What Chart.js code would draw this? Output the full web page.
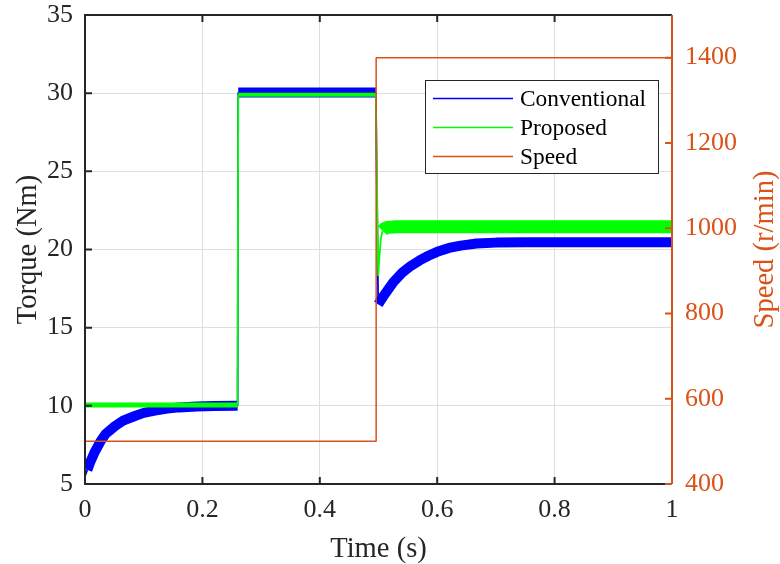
<!DOCTYPE html>
<html>
<head>
<meta charset="utf-8">
<title>Torque and speed response</title>
<script src="https://cdn.jsdelivr.net/npm/chart.js@4.4.0/dist/chart.umd.min.js"></script>
<style>
    body { margin: 0; background: #ffffff; }
    #chartContainer { width: 780px; height: 564px; }
</style>
</head>
<body>
<div id="chartContainer"><canvas id="torqueChart" width="780" height="564"></canvas></div>
<script>
// values (time in s, torque in Nm, speed in r/min)
const convTime = [0, 0.004, 0.009, 0.016, 0.026, 0.035, 0.051, 0.065, 0.085, 0.1, 0.119, 0.14, 0.16, 0.19, 0.22, 0.26,
    0.261, 0.4955, 0.4965, 0.4995, 0.51, 0.525, 0.54, 0.555, 0.57, 0.585, 0.6, 0.62, 0.64, 0.667, 0.7, 0.75, 1];
const convTorque = [5.5, 5.9, 6.4, 7.0, 7.7, 8.2, 8.7, 9.05, 9.35, 9.55, 9.7, 9.82, 9.9, 9.96, 9.99, 10.0,
    30.05, 30.05, 26.3, 16.5, 17.1, 17.9, 18.5, 18.95, 19.3, 19.6, 19.85, 20.1, 20.25, 20.38, 20.44, 20.47, 20.47];

const propTime = [0, 0.26, 0.261, 0.4955, 0.4995, 0.5015, 0.504, 0.507, 0.512, 0.53, 1];
const propTorque = [10.05, 10.05, 29.9, 29.9, 18.3, 19.5, 20.7, 21.2, 21.4, 21.45, 21.45];

const speedTime = [0, 0.496, 0.496, 1];
const speedValue = [500, 500, 1400, 1400];

const timeTicks = [0, 0.2, 0.4, 0.6, 0.8, 1];
const torqueTicks = [5, 10, 15, 20, 25, 30, 35];
const speedTicks = [400, 600, 800, 1000, 1200, 1400];

const FONT = 'Liberation Serif';
const AXIS_GREY = '#262626';
const SPEED_ORANGE = '#D95319';

function toPoints(xs, ys) {
    return xs.map((x, i) => ({ x: x, y: ys[i] }));
}

// jumps are drawn as thin lines, the rippled parts as a thick band
function bandWidth(wide) {
    return ctx => (ctx.p1.parsed.x - ctx.p0.parsed.x < 0.0045 ? 1.8 : wide(ctx.p0.parsed.x));
}

// fixed box sizes so the plot area matches the figure; tick labels may overflow
function fixWidth(w) {
    return scale => {
        scale.width = w;
        scale.paddingTop = 0;
        scale.paddingBottom = 0;
    };
}

const frameLines = {
    id: 'frameLines',
    afterDatasetsDraw(chart) {
        const { ctx, chartArea: a, scales } = chart;
        const len = 7;
        ctx.save();
        ctx.lineWidth = 2;
        ctx.strokeStyle = AXIS_GREY;
        ctx.beginPath();
        ctx.moveTo(a.right, a.top);
        ctx.lineTo(a.left, a.top);
        ctx.lineTo(a.left, a.bottom);
        ctx.lineTo(a.right, a.bottom);
        scales.x.ticks.forEach(t => {
            const px = scales.x.getPixelForValue(t.value);
            ctx.moveTo(px, a.bottom);
            ctx.lineTo(px, a.bottom - len);
            ctx.moveTo(px, a.top);
            ctx.lineTo(px, a.top + len);
        });
        scales.yTorque.ticks.forEach(t => {
            const py = scales.yTorque.getPixelForValue(t.value);
            ctx.moveTo(a.left, py);
            ctx.lineTo(a.left + len, py);
        });
        ctx.stroke();

        ctx.strokeStyle = SPEED_ORANGE;
        ctx.beginPath();
        ctx.moveTo(a.right, a.top);
        ctx.lineTo(a.right, a.bottom);
        scales.ySpeed.ticks.forEach(t => {
            const py = scales.ySpeed.getPixelForValue(t.value);
            ctx.moveTo(a.right, py);
            ctx.lineTo(a.right - len, py);
        });
        ctx.stroke();
        ctx.restore();
    }
};

const boxLegend = {
    id: 'boxLegend',
    afterDraw(chart) {
        const { ctx, chartArea: a } = chart;
        const x0 = a.left + 340, y0 = a.top + 65, w = 233, h = 93;
        ctx.save();
        ctx.fillStyle = '#ffffff';
        ctx.fillRect(x0, y0, w, h);
        ctx.lineWidth = 1;
        ctx.strokeStyle = AXIS_GREY;
        ctx.strokeRect(x0 + 0.5, y0 + 0.5, w, h);
        ctx.font = '23.4px "' + FONT + '"';
        ctx.textBaseline = 'middle';
        ctx.fillStyle = '#000000';
        chart.data.datasets.forEach((ds, i) => {
            const y = y0 + 18.5 + i * 29;
            ctx.strokeStyle = ds.borderColor;
            ctx.lineWidth = 1.5;
            ctx.beginPath();
            ctx.moveTo(x0 + 8, y);
            ctx.lineTo(x0 + 88, y);
            ctx.stroke();
            ctx.fillText(ds.label, x0 + 95, y + 1);
        });
        ctx.restore();
    }
};

const rightTitle = {
    id: 'rightTitle',
    afterDraw(chart) {
        const { ctx, chartArea: a } = chart;
        ctx.save();
        ctx.translate(765, (a.top + a.bottom) / 2);
        ctx.rotate(-Math.PI / 2);
        ctx.font = '28.6px "' + FONT + '"';
        ctx.fillStyle = SPEED_ORANGE;
        ctx.textAlign = 'center';
        ctx.textBaseline = 'middle';
        ctx.fillText('Speed (r/min)', 0, 0);
        ctx.restore();
    }
};

function createTorqueChart() {
    const ctx = document.getElementById('torqueChart').getContext('2d');
    new Chart(ctx, {
        type: 'line',
        data: {
            datasets: [{
                label: 'Conventional',
                data: toPoints(convTime, convTorque),
                yAxisID: 'yTorque',
                borderColor: '#0000FF',
                borderWidth: 10,
                order: 3,
                segment: { borderWidth: bandWidth(() => 10) }
            }, {
                label: 'Proposed',
                data: toPoints(propTime, propTorque),
                yAxisID: 'yTorque',
                borderColor: '#00FF00',
                borderWidth: 5,
                order: 2,
                segment: { borderWidth: bandWidth(x => (x < 0.26 ? 5 : x < 0.5 ? 4 : 13)) }
            }, {
                label: 'Speed',
                data: toPoints(speedTime, speedValue),
                yAxisID: 'ySpeed',
                borderColor: SPEED_ORANGE,
                borderWidth: 1.5,
                order: 1
            }]
        },
        options: {
            responsive: false,
            animation: false,
            layout: { padding: { top: 15, left: 0, right: 0, bottom: 0 } },
            elements: {
                point: { radius: 0 },
                line: { tension: 0, borderJoinStyle: 'bevel', borderCapStyle: 'butt' }
            },
            datasets: { line: { clip: 0 } },
            scales: {
                x: {
                    type: 'linear',
                    min: 0,
                    max: 1,
                    afterBuildTicks: scale => { scale.ticks = timeTicks.map(v => ({ value: v })); },
                    afterFit: scale => {
                        scale.height = 80;
                        scale.paddingLeft = 0;
                        scale.paddingRight = 0;
                    },
                    grid: { color: '#dedede', lineWidth: 1, drawTicks: false },
                    border: { display: false },
                    ticks: {
                        color: AXIS_GREY,
                        padding: 11,
                        maxRotation: 0,
                        font: { family: FONT, size: 26 },
                        callback: v => String(v)
                    },
                    title: {
                        display: true,
                        text: 'Time (s)',
                        color: AXIS_GREY,
                        font: { family: FONT, size: 28.6, lineHeight: 1 },
                        padding: { top: 0, bottom: 0 }
                    }
                },
                yTorque: {
                    position: 'left',
                    min: 5,
                    max: 35,
                    afterBuildTicks: scale => { scale.ticks = torqueTicks.map(v => ({ value: v })); },
                    afterFit: fixWidth(85),
                    grid: { color: '#dedede', lineWidth: 1, drawTicks: false },
                    border: { display: false },
                    ticks: {
                        color: AXIS_GREY,
                        padding: 12,
                        font: { family: FONT, size: 26 },
                        callback: v => String(v)
                    },
                    title: {
                        display: true,
                        text: 'Torque (Nm)',
                        color: AXIS_GREY,
                        font: { family: FONT, size: 28.6, lineHeight: 1 },
                        padding: { top: 14, bottom: 0 }
                    }
                },
                ySpeed: {
                    position: 'right',
                    min: 400,
                    max: 1500,
                    afterBuildTicks: scale => { scale.ticks = speedTicks.map(v => ({ value: v })); },
                    afterFit: fixWidth(108),
                    grid: { drawOnChartArea: false, drawTicks: false },
                    border: { display: false },
                    ticks: {
                        color: SPEED_ORANGE,
                        padding: 13,
                        font: { family: FONT, size: 26 },
                        callback: v => String(v)
                    }
                }
            },
            plugins: {
                legend: { display: false },
                tooltip: { enabled: false },
                title: { display: false }
            }
        },
        plugins: [frameLines, boxLegend, rightTitle]
    });
}

document.addEventListener('DOMContentLoaded', function() {
    createTorqueChart();
});
</script>
</body>
</html>
